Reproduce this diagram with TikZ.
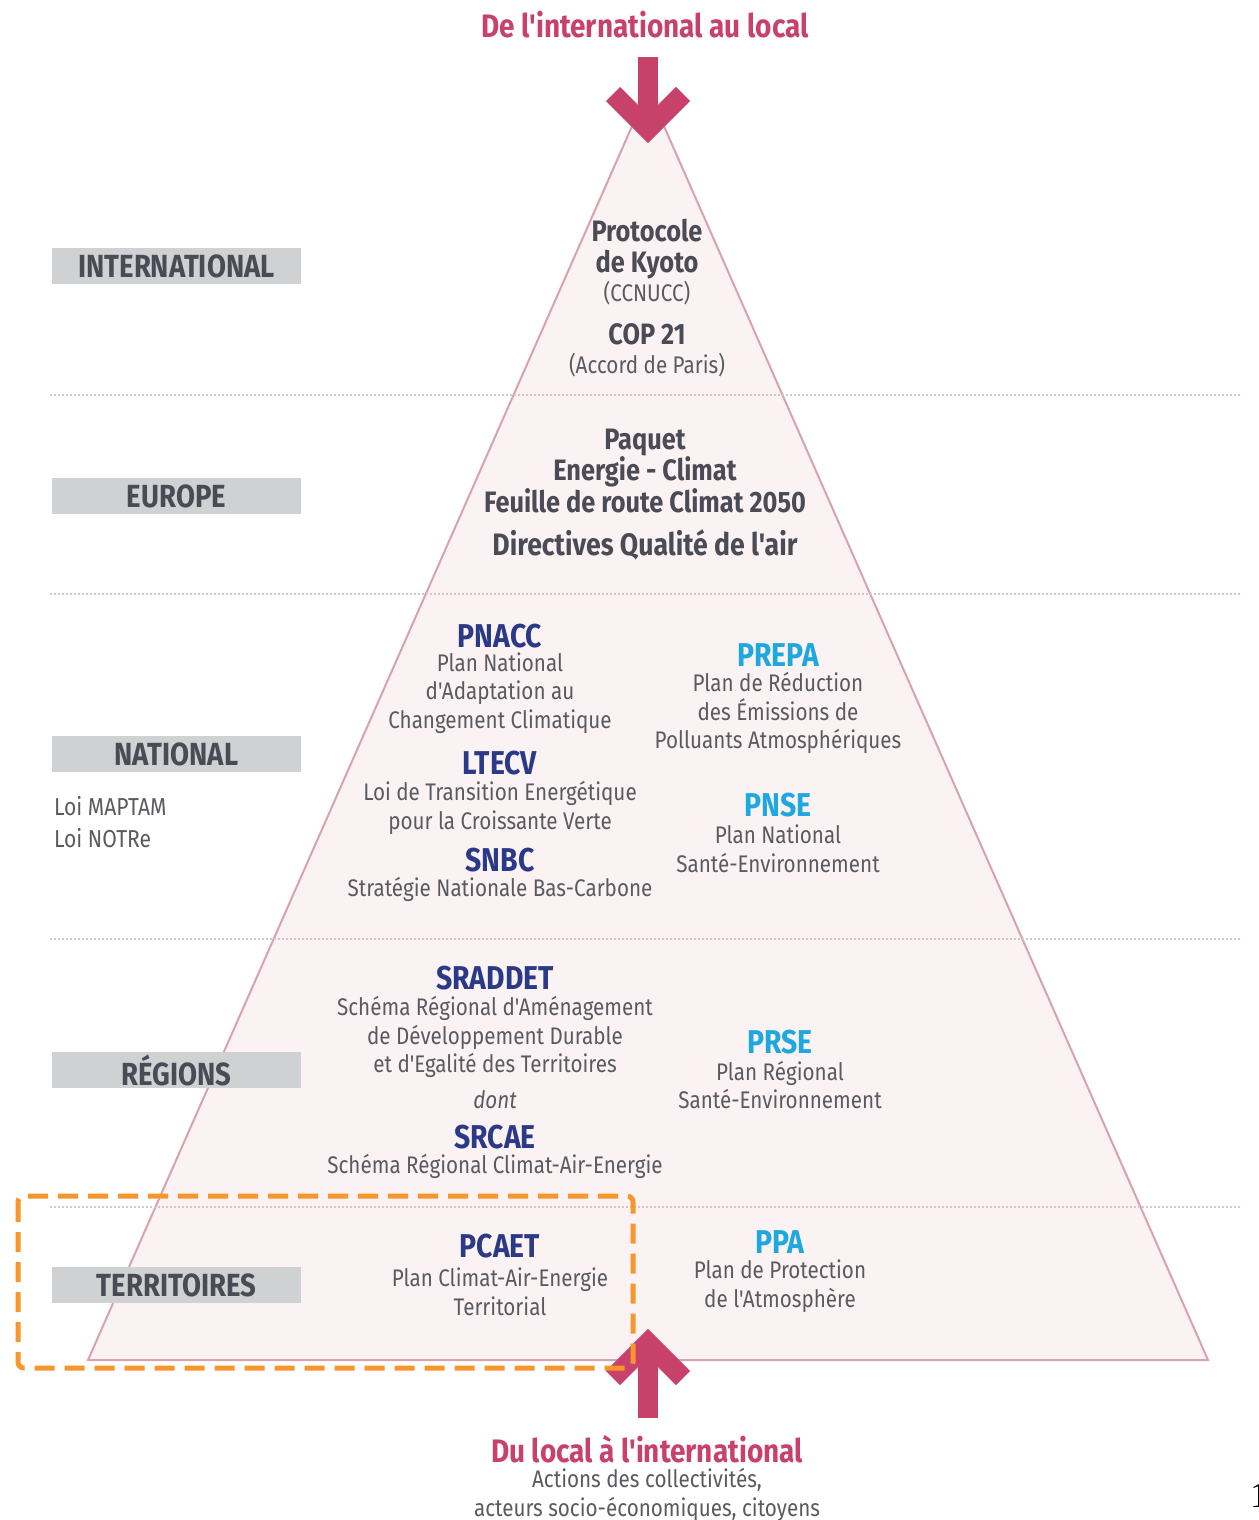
\documentclass[tikz,border=0pt]{standalone}
\usepackage{fontspec}
\setmainfont{Fira Sans}[FakeStretch=0.86, Ligatures=TeXOff]
\newfontfamily\pgfont{Liberation Serif}
\definecolor{pinkc}{HTML}{C7416B}
\definecolor{darkblue}{HTML}{2B3A87}
\definecolor{cyanc}{HTML}{1FA8DF}
\definecolor{bodygray}{HTML}{5A5A60}
\definecolor{lbltext}{HTML}{4A4B55}
\definecolor{lblgray}{HTML}{D0D1D3}
\definecolor{trifill}{HTML}{FAF2F3}
\definecolor{tristroke}{HTML}{D7A3B0}
\definecolor{dotc}{HTML}{D6C6CB}
\definecolor{orangec}{HTML}{F7962D}
\tikzset{
  lbl/.style={fill=lblgray, minimum width=249pt, minimum height=36pt, inner sep=0pt,
    font=\bfseries\fontsize{32}{34}\selectfont, text=lbltext},
  hdb/.style={font=\bfseries\fontsize{33}{34}\selectfont, text=darkblue, inner sep=0pt},
  hdc/.style={font=\bfseries\fontsize{33}{34}\selectfont, text=cyanc, inner sep=0pt},
  hdg/.style={font=\bfseries\fontsize{29.5}{31.5}\selectfont, text=lbltext, inner sep=0pt, align=center},
  bodyt/.style={font=\fontsize{24}{28.5}\selectfont, text=bodygray, inner sep=0pt, align=center},
  sidet/.style={font=\fontsize{24.5}{32}\selectfont, text=bodygray, inner sep=0pt, align=left, anchor=west},
  ttl/.style={font=\bfseries\fontsize{32.5}{34}\selectfont, text=pinkc, inner sep=0pt},
  dotline/.style={dotc, line width=2pt, dash pattern=on 2pt off 2pt},
  arrowc/.style={pinkc, line width=20pt, miter limit=10},
}
\begin{document}
\begin{tikzpicture}[x=1pt,y=-1pt]
\useasboundingbox (0,0) rectangle (1258,1520);
\fill[white] (0,0) rectangle (1258,1520);
% pyramid
\coordinate (apex) at (648,90);
\coordinate (bl) at (88,1360);
\coordinate (br) at (1208,1360);
\draw[tristroke, fill=trifill, line width=2pt, line join=miter] (apex) -- (br) -- (bl) -- cycle;
% dotted separators
\foreach \yy/\nm in {395/a,594/b,939/c,1207/d}{
  \coordinate (dl\nm) at (50,\yy);
  \coordinate (dr\nm) at (1242,\yy);
  \draw[dotline] (dl\nm) -- (dr\nm);
}
% labels
\node[lbl] (lint) at (176.5,266) {INTERNATIONAL};
\node[lbl] (leur) at (176.5,496) {EUROPE};
\node[lbl] (lnat) at (176.5,754) {NATIONAL};
\node[lbl] (lreg) at (176.5,1070) {RÉGIONS};
\node[lbl] (lter) at (176.5,1285) {TERRITOIRES};
\node[sidet] (lois) at (54,822) {Loi MAPTAM\\Loi NOTRe};
% international
\node[hdg] (kyoto) at (647,249) {Protocole\\de Kyoto};
\node[bodyt] (ccnucc) at (647,293) {(CCNUCC)};
\node[hdg] (cop) at (647,334) {COP 21};
\node[bodyt] (paris) at (647,365) {(Accord de Paris)};
% europe
\node[hdg] (paquet) at (645,471) {Paquet\\Energie - Climat\\Feuille de route Climat 2050};
\node[hdg, font=\bfseries\fontsize{31}{32}\selectfont] (direc) at (645,545) {Directives Qualité de l'air};
% national
\node[hdb] (pnacc) at (500,636) {PNACC};
\node[bodyt] (pnaccd) at (500,693) {Plan National\\d'Adaptation au\\Changement Climatique};
\node[hdb] (ltecv) at (500,763) {LTECV};
\node[bodyt] (ltecvd) at (500,808) {Loi de Transition Energétique\\pour la Croissante Verte};
\node[hdb] (snbc) at (500,860) {SNBC};
\node[bodyt] (snbcd) at (500,889) {Stratégie Nationale Bas-Carbone};
\node[hdc] (prepa) at (778,655) {PREPA};
\node[bodyt] (prepad) at (778,713) {Plan de Réduction\\des Émissions de\\Polluants Atmosphériques};
\node[hdc] (pnse) at (778,805) {PNSE};
\node[bodyt] (pnsed) at (778,849) {Plan National\\Santé-Environnement};
% regions
\node[hdb] (sraddet) at (495,978) {SRADDET};
\node[bodyt] (sraddetd) at (495,1037) {Schéma Régional d'Aménagement\\de Développement Durable\\et d'Egalité des Territoires};
\node[bodyt, font=\itshape\fontsize{24}{28.5}\selectfont] (dont) at (495,1100) {dont};
\node[hdb] (srcae) at (495,1137) {SRCAE};
\node[bodyt] (srcaed) at (495,1166) {Schéma Régional Climat-Air-Energie};
\node[hdc] (prse) at (780,1042) {PRSE};
\node[bodyt] (prsed) at (780,1085) {Plan Régional\\Santé-Environnement};
% territoires
\node[hdb] (pcaet) at (500,1246) {PCAET};
\node[bodyt] (pcaetd) at (500,1292) {Plan Climat-Air-Energie\\Territorial};
\node[hdc] (ppa) at (780,1242) {PPA};
\node[bodyt] (ppad) at (780,1286) {Plan de Protection\\de l'Atmosphère};
% top arrow
\node[ttl] (ttop) at (645,25) {De l'international au local};
\coordinate (ta0) at (648,57);
\coordinate (ta1) at (648,129);
\coordinate (tal) at (613,94);
\coordinate (tar) at (683,94);
\draw[arrowc] (ta0) -- (ta1);
\draw[arrowc, line join=miter] (tal) -- (ta1) -- (tar);
% bottom arrow
\coordinate (ba0) at (648,1418);
\coordinate (ba1) at (648,1343);
\coordinate (bal) at (613,1378);
\coordinate (bar) at (683,1378);
\draw[arrowc] (ba0) -- (ba1);
\draw[arrowc, line join=miter] (bal) -- (ba1) -- (bar);
\node[ttl] (tbot) at (647,1449) {Du local à l'international};
\node[bodyt] (tbotd) at (647,1495) {Actions des collectivités,\\acteurs socio-économiques, citoyens};
% highlight box
\draw[orangec, line width=5pt, dash pattern=on 20pt off 10pt, rounded corners=6pt] (18,1196) rectangle (633,1368);
% page number fragment
\node[font=\pgfont\fontsize{36}{36}\selectfont, anchor=south west, inner sep=0pt] (pg) at (1250,1508) {1};
\end{tikzpicture}
\end{document}
